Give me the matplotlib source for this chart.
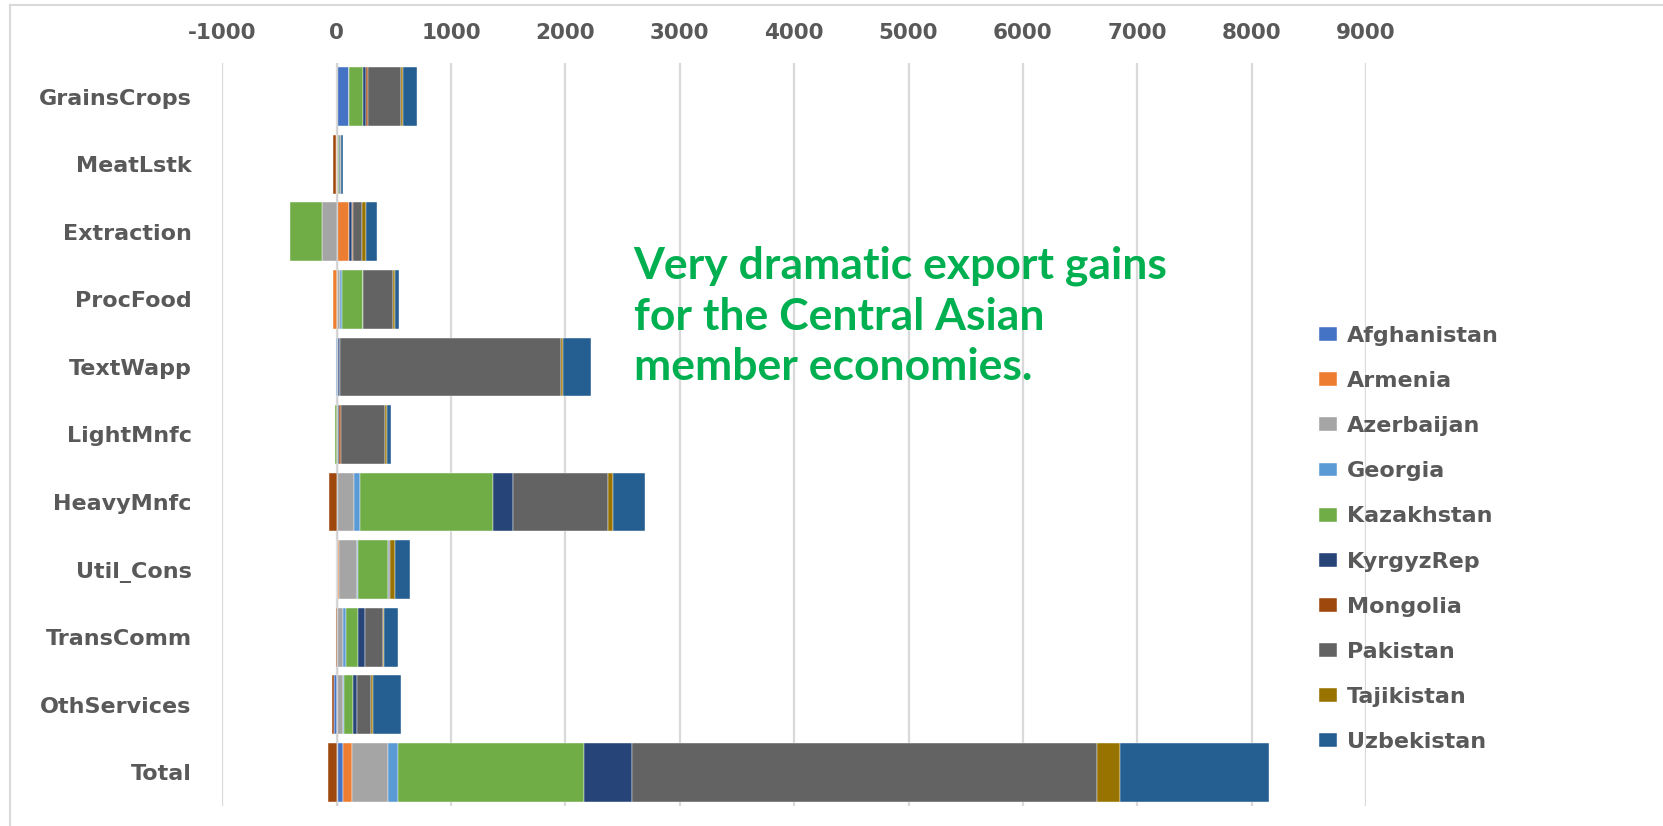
import matplotlib
matplotlib.use("Agg")
import matplotlib.pyplot as plt
from matplotlib.lines import Line2D
import numpy as np

categories = ["GrainsCrops", "MeatLstk", "Extraction", "ProcFood", "TextWapp",
              "LightMnfc", "HeavyMnfc", "Util_Cons", "TransComm", "OthServices", "Total"]

countries = ["Afghanistan", "Armenia", "Azerbaijan", "Georgia", "Kazakhstan",
             "KyrgyzRep", "Mongolia", "Pakistan", "Tajikistan", "Uzbekistan"]

colors = ["#4472C4", "#ED7D31", "#A5A5A5", "#5B9BD5", "#70AD47",
          "#264478", "#9E480E", "#636363", "#997300", "#255E91"]

# values per country, in category order
afghanistan = [105, 0, 0, 0, 0, 0, 0, 5, 0, -23, 55]
armenia     = [0, -5, 111, -30, 0, 0, 0, 15, 0, 0, 80]
azerbaijan  = [0, 0, -125, 29, 15, 0, 152, 157, 58, 58, 312]
georgia     = [3, 5, 0, 15, -8, 0, 52, 12, 20, 9, 87]
kazakhstan  = [122, 12, -286, 184, 0, -15, 1166, 262, 108, 79, 1630]
kyrgyzrep   = [29, 14, 23, 0, 15, 23, 169, 9, 64, 35, 420]
mongolia    = [12, -30, 12, 5, 0, 12, -67, 0, -10, -17, -75]
pakistan    = [294, 5, 79, 259, 1932, 388, 830, 10, 157, 120, 4062]
tajikistan  = [15, 0, 29, 15, 15, 15, 50, 38, 3, 15, 200]
uzbekistan  = [120, 22, 99, 35, 245, 33, 274, 131, 125, 245, 1309]

series = [afghanistan, armenia, azerbaijan, georgia, kazakhstan,
          kyrgyzrep, mongolia, pakistan, tajikistan, uzbekistan]

xticks = [-1000, 0, 1000, 2000, 3000, 4000, 5000, 6000, 7000, 8000, 9000]

W, H = 1663, 826
fig = plt.figure(figsize=(W / 100, H / 100), dpi=100)
ax = fig.add_axes([222.3 / W, 1 - 806 / H, (1366 - 222.3) / W, (806 - 63) / H])

txt_color = "#595959"
grid_color = "#D9D9D9"

y = np.arange(len(categories))
pos_left = np.zeros(len(categories))
neg_left = np.zeros(len(categories))
handles = []
for name, vals, col in zip(countries, series, colors):
    v = np.array(vals, dtype=float)
    left = np.where(v >= 0, pos_left, neg_left)
    b = ax.barh(y, v, left=left, height=0.87, color=col, label=name,
                edgecolor="white", linewidth=0.3, zorder=3)
    handles.append(b)
    pos_left = pos_left + np.where(v > 0, v, 0)
    neg_left = neg_left + np.where(v < 0, v, 0)

ax.set_xlim(-1000, 9000)
ax.set_ylim(len(categories) - 0.5, -0.5)
ax.set_xticks(xticks)
ax.set_xticklabels([str(t) for t in xticks])
ax.xaxis.tick_top()
ax.set_yticks(y)
ax.set_yticklabels(categories)

for t in xticks:
    ax.axvline(t, color=grid_color, linewidth=1.6, zorder=1)
ax.axvline(0, color="#D0D0D0", linewidth=1.0, zorder=4)

for s in ax.spines.values():
    s.set_visible(False)

ax.tick_params(axis="x", length=0, pad=14.5, labelsize=15.5, labelcolor=txt_color)
ax.tick_params(axis="y", length=0, pad=22, labelsize=16, labelcolor=txt_color)
for lab in ax.get_xticklabels() + ax.get_yticklabels():
    lab.set_fontweight("bold")
    lab.set_family("DejaVu Sans")

leg = fig.legend(handles=handles, labels=countries, loc="upper left",
                 bbox_to_anchor=(1319 / W, 1 - 326 / H), frameon=False,
                 prop={"family": "DejaVu Sans", "weight": "bold", "size": 16},
                 handlelength=0.82, handleheight=0.58, handletextpad=0.45,
                 labelspacing=1.13, borderpad=0, borderaxespad=0)
for t in leg.get_texts():
    t.set_color(txt_color)

# annotation
green = "#00B050"
ann_lines = ["Very dramatic export gains", "for the Central Asian", "member economies."]
ann_base = [278, 330, 380]
for line, yb in zip(ann_lines, ann_base):
    fig.text(633.6 / W, 1 - yb / H, line, color=green, fontsize=32,
             fontweight="bold", family=["Lato", "DejaVu Sans"],
             ha="left", va="baseline")

# chart area border (left and top)
fig.add_artist(Line2D([10 / W, 10 / W], [0, 1 - 5 / H], transform=fig.transFigure,
                      color=grid_color, linewidth=1.5))
fig.add_artist(Line2D([10 / W, 1], [1 - 5 / H, 1 - 5 / H], transform=fig.transFigure,
                      color=grid_color, linewidth=1.5))

fig.savefig("out.png", dpi=100)
